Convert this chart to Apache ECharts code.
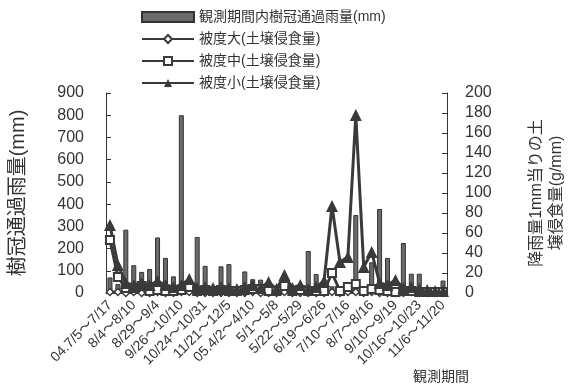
<!DOCTYPE html>
<html>
<head>
<meta charset="utf-8">
<script src="https://cdn.jsdelivr.net/npm/echarts@6/dist/echarts.min.js"></script>
<style>
  html, body { margin: 0; padding: 0; background: #fff; }
  #main { width: 575px; height: 389px; }
</style>
</head>
<body>
<div id="main"></div>
<script>
// 観測期間 (43 periods, every 3rd one labelled)
var periods = [
  '04.7/5〜7/17', '', '', '8/4〜8/10', '', '', '8/29〜9/4', '', '',
  '9/26〜10/10', '', '', '10/24〜10/31', '', '', '11/21〜12/5', '', '',
  '05.4/2〜4/10', '', '', '5/1〜5/8', '', '', '5/22〜5/29', '', '',
  '6/19〜6/26', '', '', '7/10〜7/16', '', '', '8/7〜8/16', '', '',
  '9/10〜9/19', '', '', '10/16〜10/23', '', '', '11/6〜11/20'
];

// 観測期間内樹冠通過雨量 (mm)
var rainfall = [
  70, 40, 285, 125, 95, 108, 250, 158, 75,
  800, 35, 252, 122, 30, 120, 130, 25, 97,
  62, 60, 15, 25, 20, 12, 15, 189, 85,
  15, 30, 20, 25, 351, 30, 138, 378, 158,
  20, 225, 87, 87, 8, 5, 56
];

// 土壌侵食量 (g/mm)
var coverLarge = [
  1, 1, 0, 1, 0, 0, 1, 0, 0,
  1, 1, 0, 0, 0, 0, 0, 0, 0,
  1, 0, 0, 0, 1, 0, 0, 0, 0,
  0, 1, 0, 1, 1, 0, 1, 0, 0,
  0, 0, 1, 0, 0, 0, 0
];
var coverMiddle = [
  53, 16, 5, 5, 7, 2, 3, 2, 2,
  3, 6, 2, 3, 2, 3, 2, 2, 3,
  4, 4, 2, 2, 7, 2, 3, 2, 2,
  2, 20, 2, 6, 9, 2, 4, 3, 2,
  1, 2, 2, 1, 1, 1, 1
];
var coverSmall = [
  68, 28, 10, 8, 10, 8, 12, 8, 6,
  8, 14, 5, 6, 5, 6, 5, 4, 6,
  8, 5, 11, 4, 18, 5, 8, 4, 6,
  12, 87, 31, 36, 178, 26, 41, 10, 8,
  13, 5, 6, 4, 3, 2, 2
];

var fontMain = "'Liberation Sans', 'Noto Sans CJK JP', sans-serif";
var ink = '#333';

var chart = echarts.init(document.getElementById('main'));
var option = {
  animation: false,
  textStyle: { fontFamily: fontMain, color: ink },
  title: {
    text: '観測期間',
    left: 408,
    top: 365,
    textStyle: { fontSize: 14, fontWeight: 'normal', color: ink, fontFamily: fontMain }
  },
  legend: {
    orient: 'vertical',
    left: 136,
    top: 5,
    itemGap: 8,
    itemWidth: 52,
    itemHeight: 10,
    textStyle: { fontSize: 14, color: ink },
    data: [
      { name: '観測期間内樹冠通過雨量(mm)', icon: 'rect' },
      '被度大(土壌侵食量)', '被度中(土壌侵食量)', '被度小(土壌侵食量)'
    ]
  },
  grid: { left: 104, right: 118, top: 93, bottom: 96 },
  xAxis: {
    type: 'category',
    data: periods,
    boundaryGap: true,
    axisLine: { lineStyle: { color: ink } },
    axisTick: { show: false },
    axisLabel: { interval: 2, rotate: 45, fontSize: 14, color: ink, margin: 10 }
  },
  yAxis: [
    {
      type: 'value',
      min: 0, max: 900, interval: 100,
      name: '樹冠通過雨量(mm)',
      nameLocation: 'middle',
      nameGap: 78,
      nameTextStyle: { fontSize: 20, color: ink },
      axisLine: { show: true, lineStyle: { color: ink } },
      axisTick: { show: true, inside: true, length: 5 },
      splitLine: { show: false },
      axisLabel: { fontSize: 16, color: ink, margin: 22 }
    },
    {
      type: 'value',
      min: 0, max: 200, interval: 20,
      name: '降雨量1mm当りの土\n壌侵食量(g/mm)',
      nameLocation: 'middle',
      nameGap: 80,
      nameTextStyle: { fontSize: 16, color: ink, lineHeight: 20 },
      axisLine: { show: true, lineStyle: { color: ink } },
      axisTick: { show: true, inside: true, length: 5 },
      splitLine: { show: false },
      axisLabel: { fontSize: 16, color: ink, margin: 18 }
    }
  ],
  series: [
    {
      name: '観測期間内樹冠通過雨量(mm)',
      type: 'bar',
      data: rainfall,
      barWidth: 5,
      itemStyle: { color: '#6a6a6a', borderColor: '#333', borderWidth: 1 }
    },
    {
      name: '被度大(土壌侵食量)',
      type: 'line',
      yAxisIndex: 1,
      data: coverLarge,
      showSymbol: true,
      showAllSymbol: true,
      symbol: 'diamond',
      symbolSize: 7,
      lineStyle: { color: '#3a3a3a', width: 3 },
      itemStyle: { color: '#fff', borderColor: '#3a3a3a', borderWidth: 1.5 }
    },
    {
      name: '被度中(土壌侵食量)',
      type: 'line',
      yAxisIndex: 1,
      data: coverMiddle,
      showSymbol: true,
      showAllSymbol: true,
      symbol: 'rect',
      symbolSize: 8,
      lineStyle: { color: '#3a3a3a', width: 3 },
      itemStyle: { color: '#fff', borderColor: '#3a3a3a', borderWidth: 2 }
    },
    {
      name: '被度小(土壌侵食量)',
      type: 'line',
      yAxisIndex: 1,
      data: coverSmall,
      showSymbol: true,
      showAllSymbol: true,
      symbol: 'triangle',
      symbolSize: 12,
      lineStyle: { color: '#3a3a3a', width: 3 },
      itemStyle: { color: '#3a3a3a' }
    }
  ]
};
chart.setOption(option);
</script>
</body>
</html>
